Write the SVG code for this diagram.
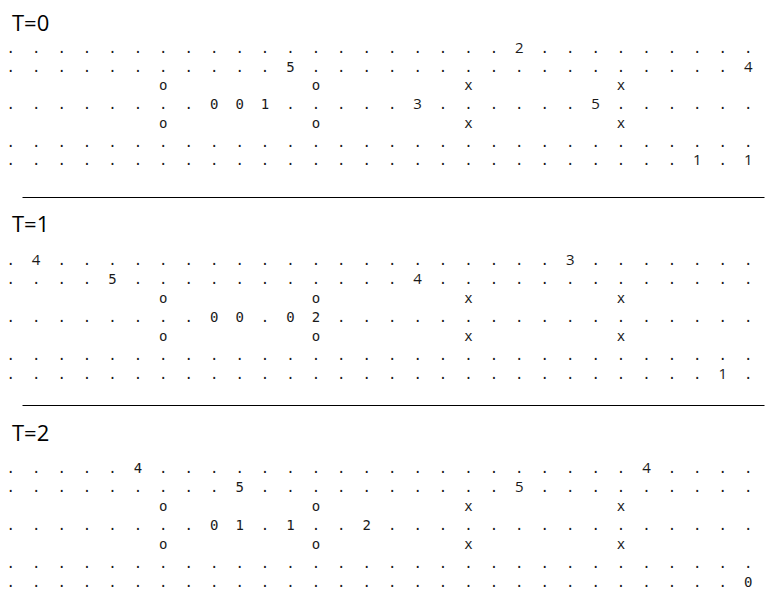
<svg xmlns="http://www.w3.org/2000/svg" width="775" height="603" viewBox="0 0 775 603">
<style>
.bg{fill:#ffffff}
.title{font-family:"Open Sans","Liberation Sans",sans-serif;font-size:22px;fill:#000}
.g{font-family:"DejaVu Sans Mono","Liberation Mono",monospace;font-size:14px;fill:#1a1a1a;text-anchor:middle}
.p{font-family:"Open Sans","Liberation Sans",sans-serif;font-size:15px}
.sep{stroke:#000;stroke-width:1}
</style>
<rect class="bg" x="0" y="0" width="775" height="603"/>

<g id="panel-t0">
<text class="title" x="12" y="31">T=0</text>
<text class="g" y="52.8" x="10.7 36.1 61.6 87.0 112.4 137.9 163.3 188.7 214.1 239.6 265.0 290.4 315.9 341.3 366.7 392.2 417.6 443.0 468.4 493.9 519.3 544.7 570.2 595.6 621.0 646.5 671.9 697.3 722.7 748.2">....................<tspan class="p">2</tspan>.........</text>
<text class="g" y="71.55" x="10.7 36.1 61.6 87.0 112.4 137.9 163.3 188.7 214.1 239.6 265.0 290.4 315.9 341.3 366.7 392.2 417.6 443.0 468.4 493.9 519.3 544.7 570.2 595.6 621.0 646.5 671.9 697.3 722.7 748.2">...........5.................<tspan class="p">4</tspan></text>
<text class="g" y="90.3" x="163.3 315.9 468.4 621.0">ooxx</text>
<text class="g" y="109.05" x="10.7 36.1 61.6 87.0 112.4 137.9 163.3 188.7 214.1 239.6 265.0 290.4 315.9 341.3 366.7 392.2 417.6 443.0 468.4 493.9 519.3 544.7 570.2 595.6 621.0 646.5 671.9 697.3 722.7 748.2">........001.....<tspan class="p">3</tspan>......<tspan class="p">5</tspan>......</text>
<text class="g" y="127.8" x="163.3 315.9 468.4 621.0">ooxx</text>
<text class="g" y="146.55" x="10.7 36.1 61.6 87.0 112.4 137.9 163.3 188.7 214.1 239.6 265.0 290.4 315.9 341.3 366.7 392.2 417.6 443.0 468.4 493.9 519.3 544.7 570.2 595.6 621.0 646.5 671.9 697.3 722.7 748.2">..............................</text>
<text class="g" y="165.3" x="10.7 36.1 61.6 87.0 112.4 137.9 163.3 188.7 214.1 239.6 265.0 290.4 315.9 341.3 366.7 392.2 417.6 443.0 468.4 493.9 519.3 544.7 570.2 595.6 621.0 646.5 671.9 697.3 722.7 748.2">...........................<tspan class="p">1</tspan>.<tspan class="p">1</tspan></text>
</g>

<g id="panel-t1">
<text class="title" x="12" y="231.7">T=1</text>
<text class="g" y="265.3" x="10.7 36.1 61.6 87.0 112.4 137.9 163.3 188.7 214.1 239.6 265.0 290.4 315.9 341.3 366.7 392.2 417.6 443.0 468.4 493.9 519.3 544.7 570.2 595.6 621.0 646.5 671.9 697.3 722.7 748.2">.<tspan class="p">4</tspan>....................<tspan class="p">3</tspan>.......</text>
<text class="g" y="284.3" x="10.7 36.1 61.6 87.0 112.4 137.9 163.3 188.7 214.1 239.6 265.0 290.4 315.9 341.3 366.7 392.2 417.6 443.0 468.4 493.9 519.3 544.7 570.2 595.6 621.0 646.5 671.9 697.3 722.7 748.2">....5...........<tspan class="p">4</tspan>.............</text>
<text class="g" y="303.3" x="163.3 315.9 468.4 621.0">ooxx</text>
<text class="g" y="322.4" x="10.7 36.1 61.6 87.0 112.4 137.9 163.3 188.7 214.1 239.6 265.0 290.4 315.9 341.3 366.7 392.2 417.6 443.0 468.4 493.9 519.3 544.7 570.2 595.6 621.0 646.5 671.9 697.3 722.7 748.2">........00.02.................</text>
<text class="g" y="341.4" x="163.3 315.9 468.4 621.0">ooxx</text>
<text class="g" y="360.4" x="10.7 36.1 61.6 87.0 112.4 137.9 163.3 188.7 214.1 239.6 265.0 290.4 315.9 341.3 366.7 392.2 417.6 443.0 468.4 493.9 519.3 544.7 570.2 595.6 621.0 646.5 671.9 697.3 722.7 748.2">..............................</text>
<text class="g" y="379.4" x="10.7 36.1 61.6 87.0 112.4 137.9 163.3 188.7 214.1 239.6 265.0 290.4 315.9 341.3 366.7 392.2 417.6 443.0 468.4 493.9 519.3 544.7 570.2 595.6 621.0 646.5 671.9 697.3 722.7 748.2">............................<tspan class="p">1</tspan>.</text>
</g>

<g id="panel-t2">
<text class="title" x="12" y="441">T=2</text>
<text class="g" y="473.4" x="10.7 36.1 61.6 87.0 112.4 137.9 163.3 188.7 214.1 239.6 265.0 290.4 315.9 341.3 366.7 392.2 417.6 443.0 468.4 493.9 519.3 544.7 570.2 595.6 621.0 646.5 671.9 697.3 722.7 748.2">.....4...................<tspan class="p">4</tspan>....</text>
<text class="g" y="492.3" x="10.7 36.1 61.6 87.0 112.4 137.9 163.3 188.7 214.1 239.6 265.0 290.4 315.9 341.3 366.7 392.2 417.6 443.0 468.4 493.9 519.3 544.7 570.2 595.6 621.0 646.5 671.9 697.3 722.7 748.2">.........5..........<tspan class="p">5</tspan>.........</text>
<text class="g" y="511.2" x="163.3 315.9 468.4 621.0">ooxx</text>
<text class="g" y="530.1" x="10.7 36.1 61.6 87.0 112.4 137.9 163.3 188.7 214.1 239.6 265.0 290.4 315.9 341.3 366.7 392.2 417.6 443.0 468.4 493.9 519.3 544.7 570.2 595.6 621.0 646.5 671.9 697.3 722.7 748.2">........01.1..2...............</text>
<text class="g" y="549.0" x="163.3 315.9 468.4 621.0">ooxx</text>
<text class="g" y="567.9" x="10.7 36.1 61.6 87.0 112.4 137.9 163.3 188.7 214.1 239.6 265.0 290.4 315.9 341.3 366.7 392.2 417.6 443.0 468.4 493.9 519.3 544.7 570.2 595.6 621.0 646.5 671.9 697.3 722.7 748.2">..............................</text>
<text class="g" y="586.8" x="10.7 36.1 61.6 87.0 112.4 137.9 163.3 188.7 214.1 239.6 265.0 290.4 315.9 341.3 366.7 392.2 417.6 443.0 468.4 493.9 519.3 544.7 570.2 595.6 621.0 646.5 671.9 697.3 722.7 748.2">.............................0</text>
</g>

<g id="separators">
<line class="sep" x1="22.5" y1="197.5" x2="764.5" y2="197.5"/>
<line class="sep" x1="22.5" y1="405.5" x2="764.5" y2="405.5"/>
</g>
</svg>
